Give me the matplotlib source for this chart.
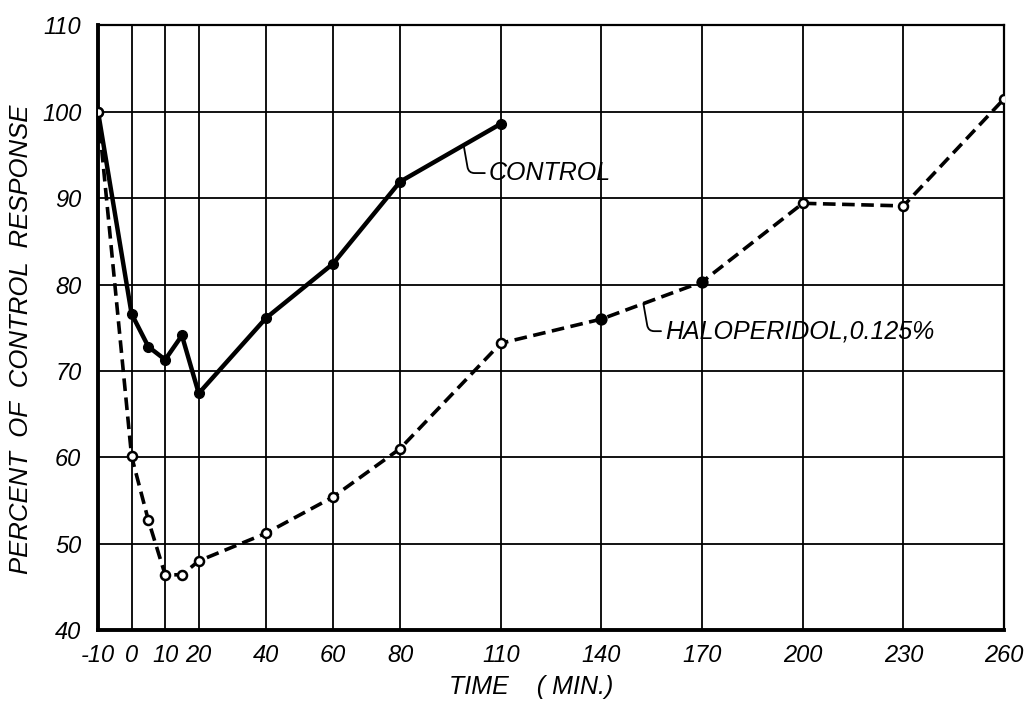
import matplotlib.pyplot as plt

# time points (min) and responses
control_t = [-10, 0, 5, 10, 15, 20, 40, 60, 80, 110]
control_y = [100, 76.6, 72.8, 71.3, 74.1, 67.4, 76.1, 82.4, 91.9, 98.6]

halo_t = [-10, 0, 5, 10, 15, 20, 40, 60, 80, 110, 140, 170, 200, 230, 260]
halo_y = [100, 60.1, 52.7, 46.4, 46.4, 48.0, 51.2, 55.4, 61.0, 73.2, 76.0, 80.3, 89.4, 89.1, 101.5]
halo_filled = [False, False, False, False, False, False, False, False, False, False, True, True, False, False, False]

x_ticks = [-10, 0, 10, 20, 40, 60, 80, 110, 140, 170, 200, 230, 260]
y_ticks = [40, 50, 60, 70, 80, 90, 100, 110]

plt.rcParams['font.family'] = ['Liberation Sans', 'DejaVu Sans']
plt.rcParams['font.style'] = 'italic'

fig = plt.figure(figsize=(10.32, 7.04), dpi=100)
ax = fig.add_axes([0.095, 0.105, 0.878, 0.859])

# control: solid line, filled dots
ax.plot(control_t, control_y, color='black', linewidth=3.2, marker='o',
        markersize=7, markerfacecolor='black', zorder=4)

# haloperidol: dashed line, mostly open circles
ax.plot(halo_t, halo_y, color='black', linewidth=2.6, linestyle=(0, (3.5, 1.8)), zorder=3)
for t, y, f in zip(halo_t, halo_y, halo_filled):
    ax.plot(t, y, marker='o', markersize=7 if f else 6.5, color='black',
            markerfacecolor='black' if f else 'white', markeredgewidth=1.8, zorder=5)

ax.set_xlim(-10, 260)
ax.set_ylim(40, 110)
ax.set_xticks(x_ticks)
ax.set_yticks(y_ticks)
ax.set_xticklabels([str(v) for v in x_ticks], fontsize=17)
ax.set_yticklabels([str(v) for v in y_ticks], fontsize=17)
ax.tick_params(axis='x', length=0, pad=10)
ax.tick_params(axis='y', length=0, pad=12)
ax.grid(True, color='black', linewidth=1.3)

for side in ['left', 'bottom']:
    ax.spines[side].set_linewidth(2.8)
for side in ['top', 'right']:
    ax.spines[side].set_linewidth(1.6)

ax.set_xlabel('TIME    ( MIN.)', fontsize=18)
ax.xaxis.set_label_coords(0.478, -0.075)
ax.set_ylabel('PERCENT  OF  CONTROL  RESPONSE', fontsize=18.5)
ax.yaxis.set_label_coords(-0.072, 0.48)

# labels with curly leaders
ax.annotate('CONTROL', xy=(99, 96.0), xytext=(106.5, 92.9), fontsize=18,
            va='center', ha='left',
            arrowprops=dict(arrowstyle='-', color='black', linewidth=1.3,
                            shrinkA=1, shrinkB=0,
                            connectionstyle='angle,angleA=180,angleB=-80,rad=6'))
ax.annotate('HALOPERIDOL,0.125%', xy=(152.5, 77.8), xytext=(159, 74.6), fontsize=18,
            va='center', ha='left',
            arrowprops=dict(arrowstyle='-', color='black', linewidth=1.3,
                            shrinkA=1, shrinkB=0,
                            connectionstyle='angle,angleA=180,angleB=-80,rad=6'))

fig.savefig('out.png', dpi=100)
